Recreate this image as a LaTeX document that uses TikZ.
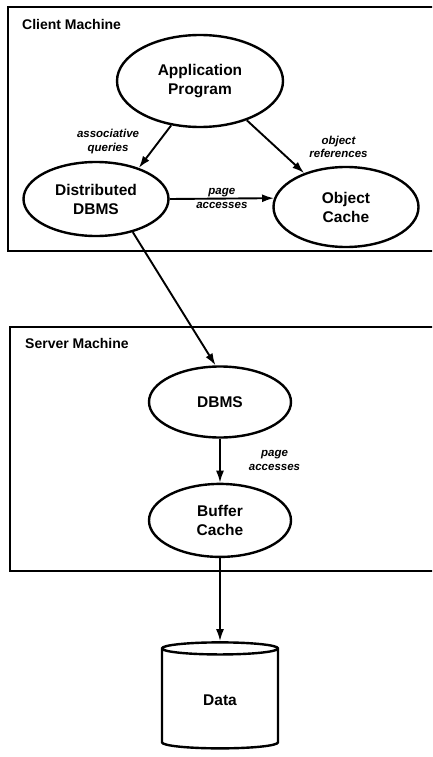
\documentclass[tikz,border=0pt]{standalone}
\usepackage{fontspec}
\setmainfont{Liberation Sans}
\usetikzlibrary{positioning,arrows.meta,shapes.geometric}
\tikzset{
  procnode/.style={ellipse, draw, line width=2.4pt, inner sep=0pt, align=center, font=\fontsize{15.5}{19}\selectfont\bfseries},
  storenode/.style={cylinder, shape border rotate=90, aspect=0.3, draw, line width=2.4pt, minimum width=116pt, minimum height=106pt, font=\fontsize{15.5}{19}\selectfont\bfseries},
  machine/.style={line width=2.8pt},
  boxlabel/.style={anchor=west, inner sep=0pt, font=\fontsize{14}{17}\selectfont\bfseries},
  flowlabel/.style={align=center, inner sep=0pt, font=\fontsize{11.5}{13.5}\selectfont\bfseries\itshape},
  arrow/.style={-{Latex[length=12pt,width=8pt]}, line width=1.9pt}
}

\begin{document}
\begin{tikzpicture}[x=1pt, y=-1pt]
\useasboundingbox (0,0) rectangle (432,757);
\clip (0,0) rectangle (432,757);

% client side
\draw[machine] (8,7) rectangle (445,251);
\node[boxlabel] (clientlbl) at (22,24) {Client Machine};
\node[procnode, minimum width=166pt, minimum height=92pt] (app) at (200,81) {Application\\Program};
\node[procnode, minimum width=145pt, minimum height=74pt] (ddbms) at (96,199) {Distributed\\DBMS};
\node[procnode, minimum width=145pt, minimum height=80pt] (objcache) at (346,207) {Object\\Cache};

% server side
\draw[machine] (10,327) rectangle (445,571);
\node[boxlabel] (serverlbl) at (25,343) {Server Machine};
\node[procnode, minimum width=142pt, minimum height=71pt] (dbms) at (220,402) {DBMS};
\node[procnode, minimum width=142pt, minimum height=73pt, below=44pt of dbms] (buffer) {Buffer\\Cache};

% disk
\node[storenode] (data) at (220,700) {Data};

\draw[arrow] (app.237) -- node[flowlabel, midway, left=15pt, yshift=5pt] {associative\\queries} (ddbms.36);
\draw[arrow] (app.320) -- node[flowlabel, midway, right=33pt] {object\\references} (objcache.141);
\draw[arrow] (ddbms.east) -- node[flowlabel, midway] {page\\accesses} (objcache.173);
\draw[arrow] (ddbms.318) -- (dbms.97);
\draw[arrow] (dbms.south) -- node[flowlabel, midway, right=28pt] {page\\accesses} (buffer.north);
\draw[arrow] (buffer.south) -- (data.north);
\end{tikzpicture}
\end{document}
